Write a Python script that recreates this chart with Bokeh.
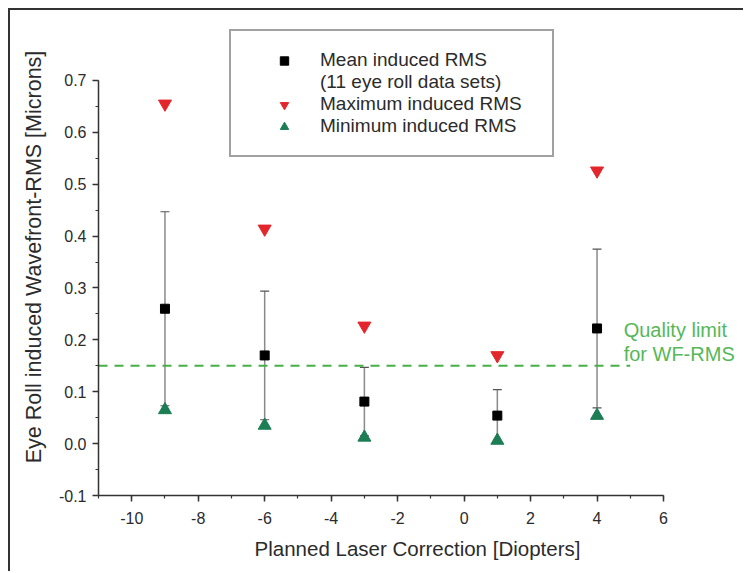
from bokeh.plotting import figure
from bokeh.models import (ColumnDataSource, Whisker, TeeHead, Legend, LegendItem,
                          Label, Range1d, SingleIntervalTicker, PrintfTickFormatter)
from bokeh.embed import file_html
from bokeh.resources import INLINE

# ---- data ----
correction = [-9, -6, -3, 1, 4]
mean_rms = [0.260, 0.170, 0.081, 0.054, 0.222]
sd_rms = [0.187, 0.124, 0.066, 0.050, 0.153]
max_rms = [0.655, 0.414, 0.227, 0.170, 0.526]
min_rms = [0.065, 0.035, 0.012, 0.006, 0.054]
quality_limit = 0.15
limit_x = [-11, 5]
x_axis_bounds = (-11, 6)
y_axis_bounds = (-0.1, 0.7001)

FONT = "Liberation Sans"
TXT = "#2b2b2b"

src = ColumnDataSource(dict(
    x=correction, mean=mean_rms, mx=max_rms, mn=min_rms,
    upper=[m + s for m, s in zip(mean_rms, sd_rms)],
    lower=[m - s for m, s in zip(mean_rms, sd_rms)],
))

# frame is enlarged beyond the axis bounds so the legend and notes are not clipped
p = figure(width=735, height=563, output_backend="svg", toolbar_location=None,
           x_range=Range1d(-11, 8.196), y_range=Range1d(-0.1, 0.8195),
           min_border_left=88, min_border_right=9, min_border_top=8, min_border_bottom=78)
p.styles = {"border-left": "2px solid #333333", "border-top": "2px solid #333333",
            "margin-left": "8px", "margin-top": "8px"}
p.outline_line_color = None
p.xgrid.visible = False
p.ygrid.visible = False
p.background_fill_color = "white"
p.border_fill_color = "white"

# axes
for ax in (p.xaxis[0], p.yaxis[0]):
    ax.axis_line_color = "#333333"
    ax.axis_line_width = 1.5
    ax.major_tick_line_color = "#333333"
    ax.minor_tick_line_color = "#333333"
    ax.major_tick_line_width = 1.5
    ax.minor_tick_line_width = 1.2
    ax.major_tick_in = 0
    ax.major_tick_out = 6
    ax.minor_tick_in = 0
    ax.minor_tick_out = 3
    ax.major_label_text_font = FONT
    ax.major_label_text_font_size = "16px"
    ax.major_label_text_color = TXT
    ax.axis_label_text_font = FONT
    ax.axis_label_text_font_style = "normal"
    ax.axis_label_text_color = TXT

p.xaxis.bounds = x_axis_bounds
p.yaxis.bounds = y_axis_bounds
p.xaxis.ticker = SingleIntervalTicker(interval=2, num_minor_ticks=2)
p.yaxis.ticker = SingleIntervalTicker(interval=0.1, num_minor_ticks=2)
p.xaxis.formatter = PrintfTickFormatter(format="%d")
p.yaxis.formatter = PrintfTickFormatter(format="%.1f")
p.xaxis.axis_label = "Planned Laser Correction [Diopters]"
p.yaxis.axis_label = "Eye Roll induced Wavefront-RMS [Microns]"
p.xaxis.axis_label_text_font_size = "20.5px"
p.yaxis.axis_label_text_font_size = "21.5px"
p.xaxis.axis_label_standoff = 10
p.yaxis.axis_label_standoff = 10
p.xaxis.major_label_standoff = 10
p.yaxis.major_label_standoff = 6

# quality limit dashed line
p.line(limit_x, [quality_limit, quality_limit], line_color="#45b048",
       line_width=2, line_dash="9 7")

# error bars
wh = Whisker(source=src, base="x", upper="upper", lower="lower",
             line_color="#8a8a8a", line_width=1.5,
             upper_head=TeeHead(size=9, line_color="#555555", line_width=1.2),
             lower_head=TeeHead(size=9, line_color="#555555", line_width=1.2))
p.add_layout(wh)

r_mean = p.scatter("x", "mean", source=src, marker="square", size=9,
                   fill_color="black", line_color="black")
r_max = p.scatter("x", "mx", source=src, marker="inverted_triangle", size=13,
                  fill_color="#e3262b", line_color="#e3262b")
r_min = p.scatter("x", "mn", source=src, marker="triangle", size=13,
                  fill_color="#1c7d55", line_color="#1c7d55")
r_blank = p.scatter(x=[], y=[], marker="square", size=1, fill_alpha=0, line_alpha=0)

legend = Legend(items=[
    LegendItem(label="Mean induced RMS", renderers=[r_mean]),
    LegendItem(label="(11 eye roll data sets)", renderers=[r_blank]),
    LegendItem(label="Maximum induced RMS", renderers=[r_max]),
    LegendItem(label="Minimum induced RMS", renderers=[r_min]),
], location=(131, 338))
legend.label_text_font = FONT
legend.label_text_font_size = "19px"
legend.label_text_color = TXT
legend.glyph_width = 70
legend.glyph_height = 21
legend.label_height = 21
legend.label_width = 214
legend.label_standoff = 1
legend.spacing = -2
legend.padding = 18
legend.margin = 0
legend.border_line_color = "#444444"
legend.border_line_width = 2
legend.background_fill_color = "white"
legend.background_fill_alpha = 1
p.add_layout(legend, "center")

for txt, dy in (("Quality limit", 36), ("for WF-RMS", 12)):
    p.add_layout(Label(x=4.8, y=quality_limit, y_offset=dy, text=txt,
                       text_font=FONT, text_font_size="20px", text_color="#55b859",
                       text_baseline="middle"))

open("out.html", "w").write(file_html(p, INLINE))
